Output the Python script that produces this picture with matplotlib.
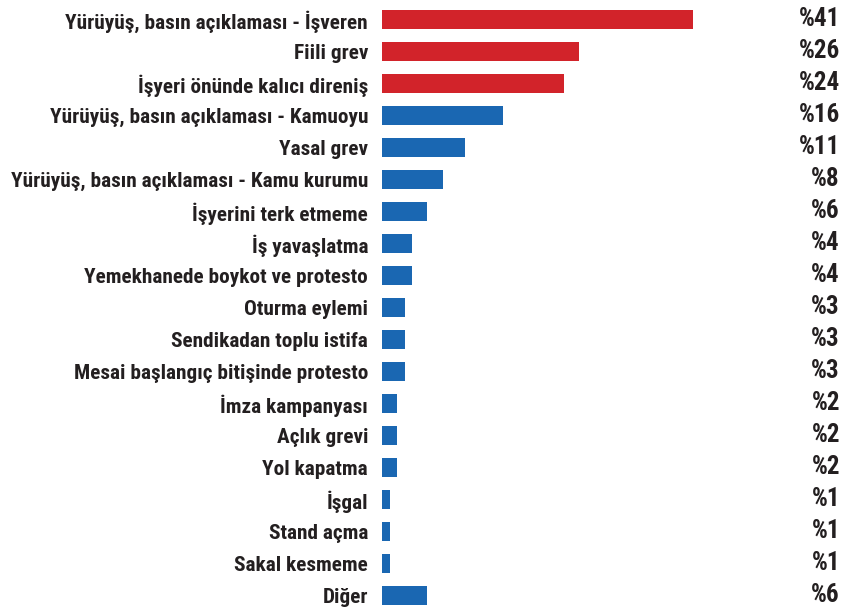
import matplotlib
matplotlib.use("Agg")
import matplotlib.pyplot as plt

categories = [
    "Yürüyüş, basın açıklaması - İşveren",
    "Fiili grev",
    "İşyeri önünde kalıcı direniş",
    "Yürüyüş, basın açıklaması - Kamuoyu",
    "Yasal grev",
    "Yürüyüş, basın açıklaması - Kamu kurumu",
    "İşyerini terk etmeme",
    "İş yavaşlatma",
    "Yemekhanede boykot ve protesto",
    "Oturma eylemi",
    "Sendikadan toplu istifa",
    "Mesai başlangıç bitişinde protesto",
    "İmza kampanyası",
    "Açlık grevi",
    "Yol kapatma",
    "İşgal",
    "Stand açma",
    "Sakal kesmeme",
    "Diğer",
]
values = [41, 26, 24, 16, 11, 8, 6, 4, 4, 3, 3, 3, 2, 2, 2, 1, 1, 1, 6]
highlight = [True, True, True] + [False] * 16

RED = "#d2232a"
BLUE = "#1a67b2"
TEXT = "#231f20"

family = ["Roboto Condensed", "DejaVu Sans"]

W, H = 845, 610
fig = plt.figure(figsize=(W / 100, H / 100), dpi=100)
x0, x1 = 382, 840
ax = fig.add_axes([x0 / W, 0, (x1 - x0) / W, 1])
px_per = 7.58
ax.set_xlim(0, (x1 - x0) / px_per)
top_i = -19.5 / 32.0
bot_i = (610 - 19.5) / 32.0
ax.set_ylim(bot_i, top_i)

ypos = list(range(len(categories)))
colors = [RED if h else BLUE for h in highlight]
ax.barh(ypos, values, height=19 / 32, color=colors, align="center")

for y, v in zip(ypos, values):
    ax.text(1.0, y, f"%{v}", transform=ax.get_yaxis_transform(), ha="right",
            va="center", fontsize=18, fontweight="bold", color=TEXT,
            family=family, fontstretch="condensed")

ax.set_yticks(ypos)
ax.set_yticklabels(categories, fontsize=15.3, fontweight="bold", color=TEXT,
                   family=family, fontstretch="condensed")
ax.tick_params(axis="y", length=0, pad=10)
ax.set_xticks([])
for s in ax.spines.values():
    s.set_visible(False)

fig.savefig("out.png", dpi=100)
